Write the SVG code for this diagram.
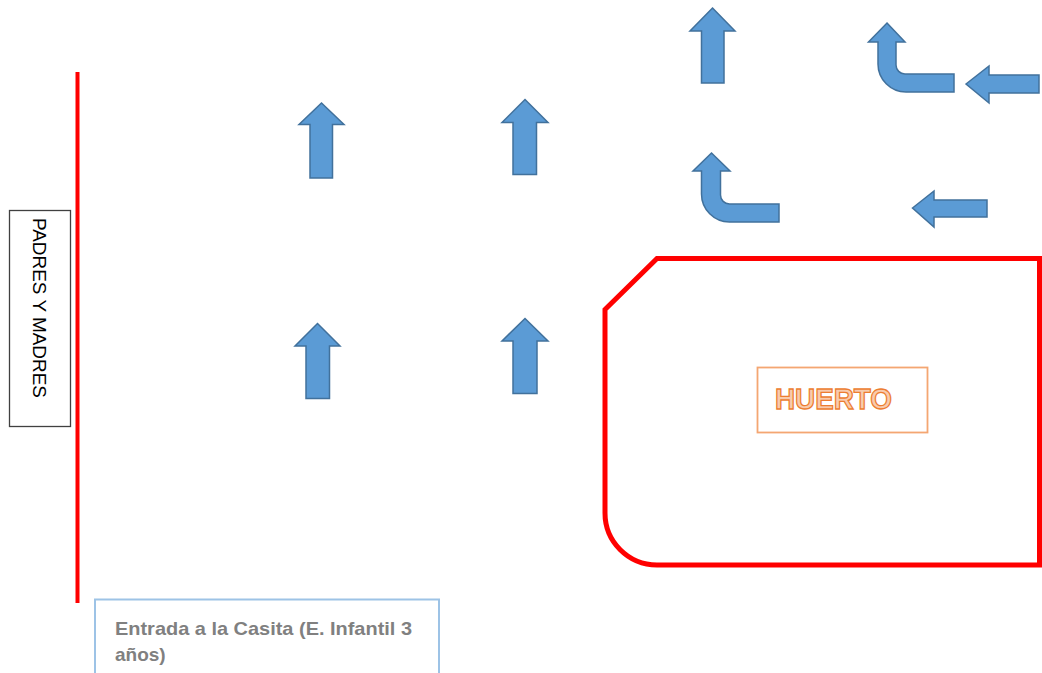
<svg xmlns="http://www.w3.org/2000/svg" width="1042" height="673" viewBox="0 0 1042 673">
<style>
.arr{fill:#5b9bd5;stroke:#41719c;stroke-width:1.5;stroke-linejoin:miter}
.red{fill:none;stroke:#ff0000;stroke-width:5}
</style>
<rect width="1042" height="673" fill="#ffffff"/>
<g id="linea-padres">
<line x1="77.5" y1="72" x2="77.5" y2="603" stroke="#ff0000" stroke-width="4"/>
</g>
<g id="padres">
<rect x="9.5" y="210.5" width="61" height="216" fill="#ffffff" stroke="#404040" stroke-width="1.3"/>
<text transform="translate(33,308) rotate(90)" text-anchor="middle" font-family="Liberation Sans, Arial, sans-serif" font-size="19" fill="#000000" textLength="180" lengthAdjust="spacingAndGlyphs">PADRES Y MADRES</text>
</g>
<g id="huerto">
<path class="red" d="M657,258.5 L1039.5,258.5 L1039.5,565 L657,565 A52,52 0 0 1 605,513 L605,309.5 Z"/>
<rect x="757.5" y="367.5" width="170" height="65" fill="#ffffff" stroke="#f4a672" stroke-width="1.8"/>
<text x="775" y="408.5" font-family="Liberation Sans, Arial, sans-serif" font-weight="bold" font-size="29" fill="#f8cbad" stroke="#ed7d31" stroke-width="1.3" textLength="117" lengthAdjust="spacingAndGlyphs">HUERTO</text>
</g>
<g id="entrada">
<rect x="95" y="599.5" width="344" height="100" fill="#ffffff" stroke="#9dc3e6" stroke-width="2"/>
<text font-family="Liberation Sans, Arial, sans-serif" font-weight="bold" font-size="19" fill="#808080">
<tspan x="115" y="635" textLength="297" lengthAdjust="spacingAndGlyphs">Entrada a la Casita (E. Infantil 3</tspan>
<tspan x="115" y="661">años)</tspan>
</text>
</g>
<g id="flechas">
<path id="up1" class="arr" d="M321.5,103 L344,124.5 L332.5,124.5 L332.5,178 L310,178 L310,124.5 L299,124.5 Z"/>
<path id="up2" class="arr" d="M525,99.5 L548,122.5 L536.5,122.5 L536.5,174.5 L513,174.5 L513,122.5 L502,122.5 Z"/>
<path id="up3" class="arr" d="M317.5,323.5 L340,346 L329.5,346 L329.5,398.5 L306,398.5 L306,346 L295,346 Z"/>
<path id="up4" class="arr" d="M525,318.5 L548,341 L537,341 L537,393.5 L513,393.5 L513,341 L502,341 Z"/>
<path id="up5" class="arr" d="M712.5,8 L735,31 L724,31 L724,83 L701.5,83 L701.5,31 L690,31 Z"/>
<path id="bent1" class="arr" d="M887,23 L905,42 L896,42 L896,65 A9,9 0 0 0 905,74 L954,74 L954,92 L906,92 A28,28 0 0 1 878,64 L878,42 L868.5,42 Z"/>
<path id="bent2" class="arr" d="M711.5,153 L730,171 L720.5,171 L720.5,195 A9,9 0 0 0 729.5,204 L779,204 L779,222 L729.5,222 A28,28 0 0 1 701.5,194 L701.5,171 L693,171 Z"/>
<path id="left1" class="arr" d="M966,84 L989,66 L989,75 L1039,75 L1039,93 L989,93 L989,103 Z"/>
<path id="left2" class="arr" d="M912.5,208 L934,191 L934,200 L987,200 L987,217 L934,217 L934,227 Z"/>
</g>
</svg>
